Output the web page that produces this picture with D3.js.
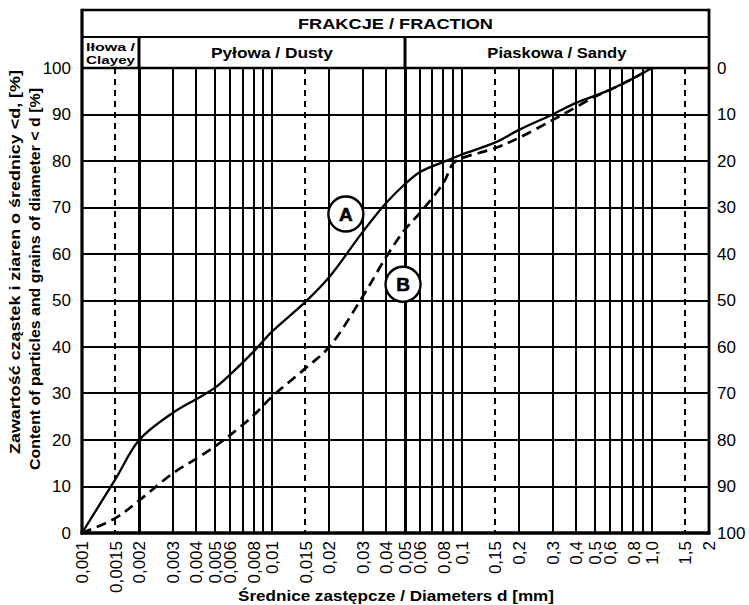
<!DOCTYPE html>
<html>
<head>
<meta charset="utf-8">
<script src="https://cdn.jsdelivr.net/npm/d3@7"></script>
<style>
  body { margin: 0; background: #fff; }
  svg { font-family: "Liberation Sans", Arial, sans-serif; display: block; }
</style>
</head>
<body>
<div id="svg-container"></div>
<script>
// grain size curves (diameter mm -> % passing)
var diamA = [0.001, 0.0015, 0.002, 0.003, 0.004, 0.005, 0.006, 0.008, 0.01, 0.015, 0.02, 0.03, 0.04, 0.05, 0.06, 0.08, 0.1, 0.15, 0.2, 0.3, 0.4, 0.5, 0.6, 0.8, 1.0];
var passA = [0, 11.6, 20, 25.8, 28.8, 31.2, 34, 39, 43.3, 49.7, 55, 64.7, 71, 75, 77.6, 79.8, 81.4, 84, 86.7, 90, 92.5, 94, 95.3, 97.8, 100];

var diamB = [0.001, 0.0015, 0.002, 0.003, 0.004, 0.005, 0.006, 0.008, 0.01, 0.015, 0.02, 0.03, 0.04, 0.05, 0.06, 0.08, 0.09, 0.1, 0.15, 0.2, 0.3, 0.4, 0.5, 0.6, 0.8, 1.0];
var passB = [0, 3.2, 7, 12.8, 16, 18.6, 21, 25.3, 29.3, 35.4, 40, 50.8, 59.4, 65.2, 68.8, 75.3, 79.5, 80.6, 82.8, 85, 88.8, 91.6, 93.8, 95.3, 97.8, 100];

var xTicks = [0.001, 0.0015, 0.002, 0.003, 0.004, 0.005, 0.006, 0.008, 0.01, 0.015, 0.02, 0.03, 0.04, 0.05, 0.06, 0.08, 0.1, 0.15, 0.2, 0.3, 0.4, 0.5, 0.6, 0.8, 1.0, 1.5, 2];
var xTickLabels = ["0,001", "0,0015", "0,002", "0,003", "0,004", "0,005", "0,006", "0,008", "0,01", "0,015", "0,02", "0,03", "0,04", "0,05", "0,06", "0,08", "0,1", "0,15", "0,2", "0,3", "0,4", "0,5", "0,6", "0,8", "1,0", "1,5", "2"];

var gridSolid = [0.002, 0.003, 0.004, 0.005, 0.006, 0.007, 0.008, 0.009, 0.01, 0.02, 0.03, 0.04, 0.05, 0.06, 0.07, 0.08, 0.09, 0.1, 0.2, 0.3, 0.4, 0.5, 0.6, 0.7, 0.8, 0.9, 1.0];
var gridDashed = [0.0015, 0.015, 0.15, 1.5];
var gridThick = [0.002, 0.05];

var yTicks = [0, 10, 20, 30, 40, 50, 60, 70, 80, 90, 100];

var fractions = ["Iłowa /|Clayey", "Pyłowa / Dusty", "Piaskowa / Sandy"];
var fractionBounds = [0.001, 0.002, 0.05, 2];

var curveLabels = ["A", "B"];
var labelDiam = [0.0245, 0.049];
var labelPass = [68.6, 53.5];

var width = 749, height = 605;
var margin = { top: 68, right: 40, bottom: 72, left: 82 };
var headTop = 10, headMid = 37;

var svg = d3.select("#svg-container")
  .append("svg")
  .attr("width", width)
  .attr("height", height);

svg.append("rect").attr("width", width).attr("height", height).attr("fill", "#fff");

var x = d3.scaleLog().domain([0.001, 2]).range([margin.left, width - margin.right]);
var y = d3.scaleLinear().domain([0, 100]).range([height - margin.bottom, margin.top]);
var yRight = d3.scaleLinear().domain([100, 0]).range([height - margin.bottom, margin.top]);

var x0 = x.range()[0], x1 = x.range()[1], yb = y.range()[0], yt = y.range()[1];

// horizontal grid
svg.append("g")
  .attr("shape-rendering", "crispEdges")
  .selectAll("line")
  .data(yTicks.slice(1, -1))
  .enter()
  .append("line")
  .attr("x1", x0).attr("x2", x1)
  .attr("y1", function(d) { return Math.round(y(d)); })
  .attr("y2", function(d) { return Math.round(y(d)); })
  .attr("stroke", "#000")
  .attr("stroke-width", 2);

// vertical grid
svg.append("g")
  .attr("shape-rendering", "crispEdges")
  .selectAll("line")
  .data(gridSolid)
  .enter()
  .append("line")
  .attr("x1", function(d) { return Math.round(x(d)); })
  .attr("x2", function(d) { return Math.round(x(d)); })
  .attr("y1", yt).attr("y2", yb)
  .attr("stroke", "#000")
  .attr("stroke-width", function(d) { return gridThick.indexOf(d) >= 0 ? 3 : 2; });

svg.append("g")
  .attr("shape-rendering", "crispEdges")
  .selectAll("line")
  .data(gridDashed)
  .enter()
  .append("line")
  .attr("x1", function(d) { return Math.round(x(d)); })
  .attr("x2", function(d) { return Math.round(x(d)); })
  .attr("y1", yt).attr("y2", yb)
  .attr("stroke", "#000")
  .attr("stroke-width", 1.5)
  .attr("stroke-dasharray", "6,5");

// curves
var line = d3.line()
  .x(function(d) { return x(d[0]); })
  .y(function(d) { return y(d[1]); })
  .curve(d3.curveCatmullRom.alpha(0.5));

svg.append("path")
  .datum(d3.zip(diamA, passA))
  .attr("fill", "none")
  .attr("stroke", "#000")
  .attr("stroke-width", 2.3)
  .attr("d", line);

svg.append("path")
  .datum(d3.zip(diamB, passB))
  .attr("fill", "none")
  .attr("stroke", "#000")
  .attr("stroke-width", 2.7)
  .attr("stroke-dasharray", "10,6")
  .attr("d", line);

// curve labels
var lab = svg.append("g")
  .selectAll("g")
  .data(curveLabels)
  .enter()
  .append("g")
  .attr("transform", function(d, i) { return "translate(" + x(labelDiam[i]) + "," + y(labelPass[i]) + ")"; });

lab.append("circle")
  .attr("r", 17.5)
  .attr("fill", "#fff")
  .attr("stroke", "#000")
  .attr("stroke-width", 2.4);

lab.append("text")
  .attr("text-anchor", "middle")
  .attr("dy", "0.36em")
  .attr("font-size", 19)
  .attr("font-weight", "bold")
  .attr("stroke", "#000")
  .attr("stroke-width", 0.6)
  .text(function(d) { return d; });

// frame
svg.append("line").attr("x1", x0).attr("x2", x0).attr("y1", headTop - 1.2).attr("y2", yb + 1.5)
  .attr("stroke", "#000").attr("stroke-width", 3.2);
svg.append("line").attr("x1", x1).attr("x2", x1).attr("y1", headTop - 1.2).attr("y2", yb + 1.5)
  .attr("stroke", "#000").attr("stroke-width", 2.8);
svg.append("line").attr("x1", x0 - 1.5).attr("x2", x1 + 1.4).attr("y1", yb).attr("y2", yb)
  .attr("stroke", "#000").attr("stroke-width", 3.4);
svg.append("line").attr("x1", x0).attr("x2", x1).attr("y1", yt).attr("y2", yt)
  .attr("stroke", "#000").attr("stroke-width", 2.4);
svg.append("line").attr("x1", x0).attr("x2", x1).attr("y1", headTop).attr("y2", headTop)
  .attr("stroke", "#000").attr("stroke-width", 2.4);
svg.append("line").attr("x1", x0).attr("x2", x1).attr("y1", headMid).attr("y2", headMid)
  .attr("stroke", "#000").attr("stroke-width", 2.2);

// header
svg.append("text")
  .attr("x", (x0 + x1) / 2)
  .attr("y", 29)
  .attr("text-anchor", "middle")
  .attr("font-size", 15.5)
  .attr("font-weight", "bold")
  .attr("textLength", 195)
  .attr("lengthAdjust", "spacingAndGlyphs")
  .text("FRAKCJE / FRACTION");

svg.append("g")
  .selectAll("line")
  .data(fractionBounds.slice(1, -1))
  .enter()
  .append("line")
  .attr("x1", function(d) { return Math.round(x(d)); })
  .attr("x2", function(d) { return Math.round(x(d)); })
  .attr("y1", headMid).attr("y2", yt)
  .attr("stroke", "#000")
  .attr("stroke-width", 3);

var fracLen = [[49, 49], [122], [139]];
var frac = svg.append("g")
  .selectAll("text")
  .data(fractions)
  .enter()
  .append("text")
  .attr("text-anchor", "middle")
  .attr("font-weight", "bold")
  .attr("font-size", function(d) { return d.indexOf("|") >= 0 ? 11 : 15.5; })
  .attr("transform", function(d, i) {
    var cx = (x(fractionBounds[i]) + x(fractionBounds[i + 1])) / 2;
    return "translate(" + cx + ",0)";
  });

frac.each(function(d, i) {
  var parts = d.split("|");
  var t = d3.select(this);
  if (parts.length === 1) {
    t.append("tspan").attr("x", 0).attr("y", 58).attr("textLength", fracLen[i][0])
      .attr("lengthAdjust", "spacingAndGlyphs").text(parts[0]);
  } else {
    t.append("tspan").attr("x", 0).attr("y", 50.5).attr("textLength", fracLen[i][0])
      .attr("lengthAdjust", "spacingAndGlyphs").text(parts[0]);
    t.append("tspan").attr("x", 0).attr("y", 63.6).attr("textLength", fracLen[i][1])
      .attr("lengthAdjust", "spacingAndGlyphs").text(parts[1]);
  }
});

// left axis
var gl = svg.append("g")
  .attr("transform", "translate(" + x0 + ",0)")
  .call(d3.axisLeft(y).tickValues(yTicks).tickSize(0).tickPadding(11));
gl.select(".domain").remove();
gl.selectAll("text").attr("font-size", 17).attr("font-family", "Liberation Sans, Arial, sans-serif").attr("fill", "#000");

// right axis
var gr = svg.append("g")
  .attr("transform", "translate(" + x1 + ",0)")
  .call(d3.axisRight(yRight).tickValues(yTicks).tickSize(0).tickPadding(8));
gr.select(".domain").remove();
gr.selectAll("text").attr("font-size", 17).attr("font-family", "Liberation Sans, Arial, sans-serif").attr("fill", "#000");

// bottom labels (rotated)
svg.append("g")
  .selectAll("text")
  .data(xTicks)
  .enter()
  .append("text")
  .attr("transform", function(d) { return "translate(" + x(d) + "," + (yb + 8) + ") rotate(-90)"; })
  .attr("text-anchor", "end")
  .attr("dy", "0.36em")
  .attr("font-size", 17)
  .text(function(d, i) { return xTickLabels[i]; });

// axis titles
svg.append("text")
  .attr("x", 396)
  .attr("y", 601)
  .attr("text-anchor", "middle")
  .attr("font-size", 15)
  .attr("font-weight", "bold")
  .attr("textLength", 316)
  .attr("lengthAdjust", "spacingAndGlyphs")
  .text("Średnice zastępcze / Diameters d [mm]");

svg.append("text")
  .attr("transform", "translate(20,262) rotate(-90)")
  .attr("text-anchor", "middle")
  .attr("font-size", 14.5)
  .attr("font-weight", "bold")
  .attr("textLength", 384)
  .attr("lengthAdjust", "spacingAndGlyphs")
  .text("Zawartość cząstek i ziaren o średnicy <d, [%]");

svg.append("text")
  .attr("transform", "translate(40,279) rotate(-90)")
  .attr("text-anchor", "middle")
  .attr("font-size", 14.5)
  .attr("font-weight", "bold")
  .attr("textLength", 382)
  .attr("lengthAdjust", "spacingAndGlyphs")
  .text("Content of particles and grains of diameter < d [%]");
</script>
</body>
</html>
